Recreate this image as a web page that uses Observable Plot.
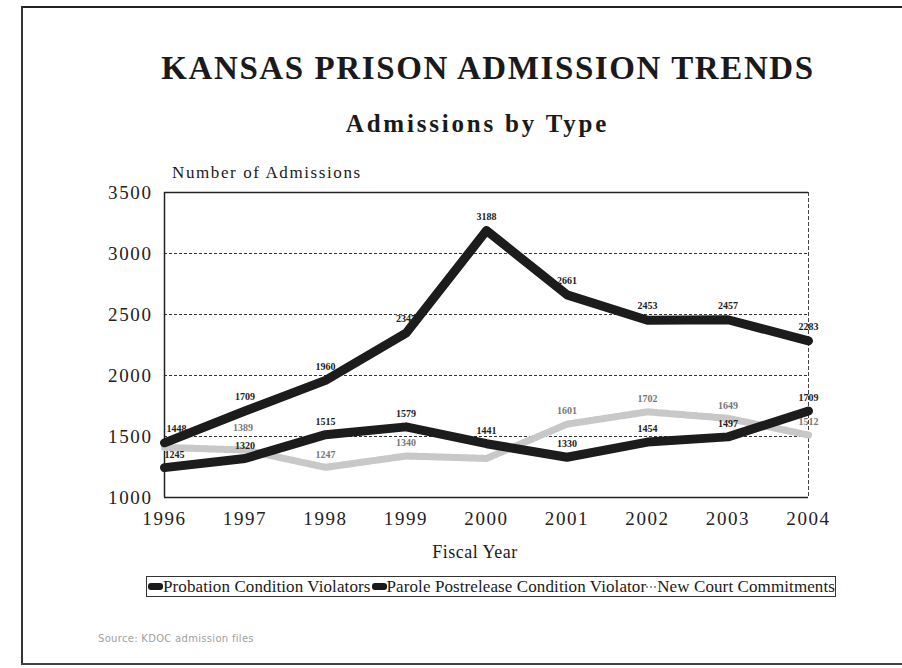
<!DOCTYPE html>
<html>
<head>
<meta charset="utf-8">
<script src="https://cdn.jsdelivr.net/npm/d3@7"></script>
<script src="https://cdn.jsdelivr.net/npm/@observablehq/plot@0.6"></script>
<style>
  html, body { margin: 0; padding: 0; background: #fff; }
  #page { position: relative; width: 902px; height: 668px; overflow: hidden; font-family: "Liberation Serif", "DejaVu Serif", serif; color: #1a1a1a; }
  .abs { position: absolute; }
  #borderTop { left: 21px; top: 6px; width: 881px; height: 0; border-top: 2px solid #222; }
  #borderLeft { left: 21px; top: 6px; width: 0; height: 658px; border-left: 2px solid #333; }
  #borderBottom { left: 21px; top: 663px; width: 881px; height: 0; border-top: 2px solid #444; }
  #title { left: 0; width: 976px; top: 50px; text-align: center; font-size: 33px; font-weight: bold; letter-spacing: 1.6px; }
  #subtitle { left: 0; width: 955px; top: 110px; text-align: center; font-size: 25px; font-weight: bold; letter-spacing: 2.8px; }
  #ylabel { left: 172px; top: 163px; font-size: 17px; letter-spacing: 1.6px; }
  #xlabel { left: 0; width: 950px; top: 542px; text-align: center; font-size: 18px; letter-spacing: 0.5px; }
  #chart { left: 0; top: 160px; }
  #chart g[aria-label="x-axis tick label"] text, #chart g[aria-label="y-axis tick label"] text { letter-spacing: 1.6px; }
  #legend { left: 146px; top: 576px; width: 688px; height: 19px; border: 1.5px solid #333; font-size: 17px; display: flex; align-items: center; white-space: nowrap; letter-spacing: 0.1px; }
  .sw { display: inline-block; width: 18px; height: 7px; border-radius: 3px; background: #1a1a1a; margin: 0 0 0 1px; }
  .swg { display: inline-block; width: 12px; height: 0; border-top: 2px dotted #999; margin: 0 1px 0 0; }
  #source { left: 98px; top: 633px; font-size: 10px; color: #a0a0a0; font-family: "DejaVu Sans", sans-serif; letter-spacing: 0.3px; }
</style>
</head>
<body>
<div id="page">
  <div class="abs" id="borderTop"></div>
  <div class="abs" id="borderLeft"></div>
  <div class="abs" id="borderBottom"></div>
  <div class="abs" id="title">KANSAS PRISON ADMISSION TRENDS</div>
  <div class="abs" id="subtitle">Admissions by Type</div>
  <div class="abs" id="ylabel">Number of Admissions</div>
  <div class="abs" id="chart"></div>
  <div class="abs" id="xlabel">Fiscal Year</div>
  <div class="abs" id="legend">
    <span class="sw"></span><span>Probation Condition Violators</span>
    <span class="sw"></span><span>Parole Postrelease Condition Violator</span>
    <span class="swg"></span><span>New Court Commitments</span>
  </div>
  <div class="abs" id="source">Source: KDOC admission files</div>
</div>
<script>
const years = [1996, 1997, 1998, 1999, 2000, 2001, 2002, 2003, 2004];
const probation = [1245, 1320, 1515, 1579, 1441, 1330, 1454, 1497, 1709];
const parole = [1448, 1709, 1960, 2347, 3188, 2661, 2453, 2457, 2283];
const newCourt = [1410, 1389, 1247, 1340, 1320, 1601, 1702, 1649, 1512];
const yTicks = [1000, 1500, 2000, 2500, 3000, 3500];
const gridTicks = [1500, 2000, 2500, 3000];
const seriesNames = ["Probation Condition Violators", "Parole Postrelease Condition Violators", "New Court Commitments"];

const toRows = (vals, name) => years.map((y, i) => ({year: y, value: vals[i], series: name, i}));
const probRows = toRows(probation, seriesNames[0]);
const paroleRows = toRows(parole, seriesNames[1]);
const courtRows = toRows(newCourt, seriesNames[2]);

const serif = "Liberation Serif, DejaVu Serif, serif";
const firstDx = rows => rows.filter(d => d.i === 0);
const restOf = rows => rows.filter(d => d.i !== 0);
const labelOpts = (fill, dy) => ({x: "year", y: "value", text: d => String(d.value), dy, fontSize: 10, fill, fontWeight: "bold"});

const chart = Plot.plot({
  width: 902,
  height: 400,
  marginLeft: 164,
  marginRight: 94,
  marginTop: 32,
  marginBottom: 63,
  style: {fontFamily: serif, background: "transparent"},
  x: {domain: [1996, 2004], ticks: years, tickFormat: d => String(d)},
  y: {domain: [1000, 3500], ticks: yTicks, tickFormat: d => String(d)},
  marks: [
    Plot.ruleY(gridTicks, {stroke: "#333", strokeWidth: 1.2, strokeDasharray: "3,2"}),
    Plot.ruleY([3500], {stroke: "#222", strokeWidth: 1.5}),
    Plot.ruleY([1000], {stroke: "#222", strokeWidth: 1.5}),
    Plot.ruleX([1996], {stroke: "#222", strokeWidth: 1.5}),
    Plot.ruleX([2004], {stroke: "#444", strokeWidth: 1, strokeDasharray: "4,2"}),
    Plot.axisX({ticks: years, tickFormat: d => String(d), tickSize: 0, tickPadding: 14, fontSize: 19, label: null, fill: "#222"}),
    Plot.axisY({ticks: yTicks, tickFormat: d => String(d), tickSize: 0, tickPadding: 12, fontSize: 19, label: null, fill: "#222"}),
    Plot.line(courtRows, {x: "year", y: "value", stroke: "#c8c8c8", strokeWidth: 7, strokeDasharray: "3,1", strokeLinejoin: "round"}),
    Plot.line(probRows, {x: "year", y: "value", stroke: "#1c1c1c", strokeWidth: 9, strokeLinejoin: "round", strokeLinecap: "round"}),
    Plot.line(paroleRows, {x: "year", y: "value", stroke: "#1c1c1c", strokeWidth: 9, strokeLinejoin: "round", strokeLinecap: "round"}),
    Plot.text(restOf(courtRows).filter(d => d.i !== 1 && d.i !== 4), labelOpts("#777", -13)),
    Plot.text(courtRows.filter(d => d.i === 1), {...labelOpts("#777", -22), dx: -2}),
    Plot.text(restOf(probRows), labelOpts("#222", -13)),
    Plot.text(firstDx(probRows), {...labelOpts("#222", -13), dx: 10}),
    Plot.text(restOf(paroleRows), labelOpts("#222", -14)),
    Plot.text(firstDx(paroleRows), {...labelOpts("#222", -14), dx: 12})
  ]
});
document.getElementById("chart").appendChild(chart);
</script>
</body>
</html>
